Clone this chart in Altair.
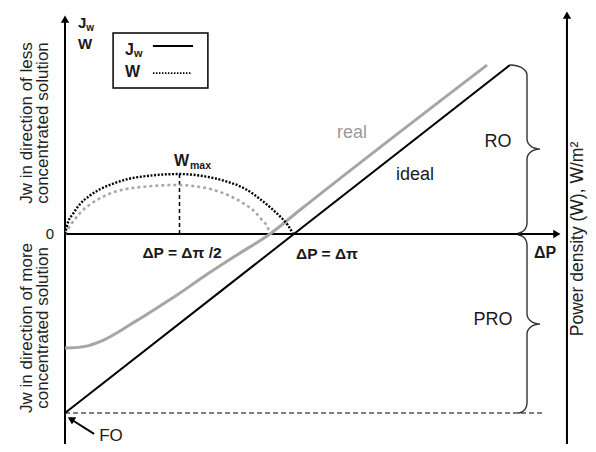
import math
import altair as alt
import pandas as pd

FONT = "Liberation Sans"

# ---- data (ΔP in units of Δπ, Jw / W in relative units) ----
IDEAL_DP = [0.0, 1.943]
IDEAL_JW = [-1.0, 0.944]

REAL_DP = [0.000, 0.031, 0.066, 0.100, 0.131, 0.166, 0.197, 0.231, 0.271, 0.341, 0.415, 0.489, 0.603, 0.751, 0.895, 1.026, 1.843]
REAL_JW = [-0.637, -0.636, -0.632, -0.625, -0.612, -0.594, -0.574, -0.549, -0.517, -0.462, -0.402, -0.341, -0.240, -0.117, 0.000, 0.134, 0.944]

W_IDEAL_DP = [0.0, 0.013, 0.035, 0.066, 0.109, 0.153, 0.218, 0.271, 0.371, 0.498, 0.611, 0.707, 0.786, 0.852, 0.904, 0.939, 0.974, 0.996]
W_IDEAL = [0.0, 0.065, 0.113, 0.168, 0.215, 0.250, 0.285, 0.306, 0.326, 0.335, 0.322, 0.293, 0.253, 0.195, 0.140, 0.098, 0.048, 0.0]

W_REAL_DP = [0.0, 0.022, 0.066, 0.109, 0.153, 0.218, 0.271, 0.371, 0.480, 0.590, 0.677, 0.777, 0.830, 0.860, 0.886, 0.895]
W_REAL = [0.0, 0.045, 0.118, 0.165, 0.200, 0.236, 0.252, 0.267, 0.274, 0.263, 0.235, 0.173, 0.123, 0.078, 0.034, 0.0]

W_MAX_DP = 0.5
W_MAX = 0.335
FO_JW = -1.0

# ---- scales ----
XMIN = -57 / 229
XMAX = XMIN + 580 / 229
YMAX = 226 / 179
YMIN = YMAX - 436 / 179

X = alt.X("u:Q", scale=alt.Scale(domain=[XMIN, XMAX], nice=False, zero=False), axis=None)
Y = alt.Y("v:Q", scale=alt.Scale(domain=[YMIN, YMAX], nice=False, zero=False), axis=None)


def pu(px):
    return (px - 65) / 229


def pv(py):
    return (234 - py) / 179


def rules(rows, **kw):
    df = pd.DataFrame(rows, columns=["u", "v", "u2", "v2"])
    return alt.Chart(df).mark_rule(**kw).encode(x=X, y=Y, x2="u2:Q", y2="v2:Q")


def line(us, vs, **kw):
    df = pd.DataFrame({"u": us, "v": vs, "i": list(range(len(us)))})
    return alt.Chart(df).mark_line(**kw).encode(x=X, y=Y, order="i:Q")


def txt(rows, **kw):
    df = pd.DataFrame(rows, columns=["u", "v", "t"])
    return alt.Chart(df).mark_text(font=FONT, **kw).encode(x=X, y=Y, text="t:N")


def brace(bid, x_top, top, x_bot, bot, x_stem=527, x_tip=540, r=10, n=8):
    mid = (top + bot) / 2
    pts = []
    ts = [k * (math.pi / 2) / (n - 1) for k in range(n)]
    for t in ts:
        pts.append((x_top + (x_stem - x_top) * math.sin(t), top + r - r * math.cos(t)))
    for t in ts:
        pts.append((x_tip - (x_tip - x_stem) * math.cos(t), mid - r + r * math.sin(t)))
    for t in ts:
        pts.append((x_tip - (x_tip - x_stem) * math.sin(t), mid + r - r * math.cos(t)))
    for t in ts:
        pts.append((x_bot + (x_stem - x_bot) * math.cos(t), bot - r + r * math.sin(t)))
    return [{"u": pu(a), "v": pv(b), "i": k, "b": bid} for k, (a, b) in enumerate(pts)]


layers = []

# axes
layers.append(rules([
    (0.0, YMIN, 0.0, 1.19),
    (2.192, YMIN, 2.192, 1.21),
    (0.0, 0.0, 2.14, 0.0),
], strokeWidth=2, color="black"))

# arrow heads
heads = pd.DataFrame([
    {"u": 0.0, "v": 1.201, "a": 0},
    {"u": 2.192, "v": 1.223, "a": 0},
    {"u": 2.148, "v": 0.0, "a": 90},
    {"u": 0.026, "v": -1.034, "a": 300},
])
layers.append(alt.Chart(heads).mark_point(filled=True, shape="triangle-up", size=70, color="black", opacity=1).encode(
    x=X, y=Y, angle=alt.Angle("a:Q", scale=None)))

# FO arrow shaft
layers.append(rules([(0.127, -1.117, 0.031, -1.039)], strokeWidth=2, color="black"))

# dashed guides
layers.append(rules([(0.0, FO_JW, 2.083, FO_JW)], strokeWidth=1.2, color="black", strokeDash=[5, 3]))
layers.append(rules([(W_MAX_DP, 0.0, W_MAX_DP, W_MAX)], strokeWidth=1.5, color="black", strokeDash=[4, 3]))

# Jw lines
layers.append(line(REAL_DP, REAL_JW, color="#a6a6a6", strokeWidth=3, interpolate="monotone"))
layers.append(line(IDEAL_DP, IDEAL_JW, color="black", strokeWidth=2))

# W arcs
layers.append(line(W_REAL_DP, W_REAL, color="#a8a8a8", strokeWidth=2.6, strokeDash=[3, 3], interpolate="monotone"))
layers.append(line(W_IDEAL_DP, W_IDEAL, color="black", strokeWidth=2.4, strokeDash=[2, 1.6], interpolate="monotone"))

# braces
bdf = pd.DataFrame(brace("RO", 510, 65, 518, 233) + brace("PRO", 518, 235, 518, 413))
layers.append(alt.Chart(bdf).mark_line(color="#333333", strokeWidth=1.4).encode(
    x=X, y=Y, order="i:Q", detail="b:N"))

# legend box
box = pd.DataFrame([{"u": 0.210, "v": 0.816, "u2": 0.624, "v2": 1.123}])
layers.append(alt.Chart(box).mark_rect(fill="white", stroke="black", strokeWidth=1.5).encode(
    x=X, y=Y, x2="u2:Q", y2="v2:Q"))
layers.append(rules([(0.384, 1.050, 0.559, 1.050)], strokeWidth=2, color="black"))
layers.append(rules([(0.384, 0.899, 0.550, 0.899)], strokeWidth=1.8, color="black", strokeDash=[1.5, 1.5]))

TXT = "#1a1a1a"
# bold labels centred
layers.append(txt([
    (0.511, -0.106, "ΔP = Δπ /2"),
    (1.144, -0.112, "ΔP = Δπ"),
], fontSize=15.5, fontWeight="bold", color=TXT, align="center", baseline="middle"))
layers.append(txt([(2.096, -0.106, "ΔP")], fontSize=16, fontWeight="bold", color=TXT, align="center", baseline="middle"))

# plain labels
layers.append(txt([
    (1.528, 0.330, "ideal"),
    (1.891, 0.514, "RO"),
    (1.869, -0.480, "PRO"),
], fontSize=18, color=TXT, align="center", baseline="middle"))
layers.append(txt([(0.201, -1.128, "FO")], fontSize=17, color=TXT, align="center", baseline="middle"))
layers.append(txt([(-0.066, 0.0, "0")], fontSize=15, color=TXT, align="center", baseline="middle"))
layers.append(txt([(1.253, 0.564, "real")], fontSize=18, color="#9a9a9a", align="center", baseline="middle"))

# bold symbol labels
layers.append(txt([
    (0.057, 1.178, "J"),
    (0.057, 1.064, "W"),
], fontSize=15, fontWeight="bold", color=TXT, align="left", baseline="middle"))
layers.append(txt([
    (0.262, 1.028, "J"),
    (0.262, 0.905, "W"),
    (0.476, 0.408, "W"),
], fontSize=16, fontWeight="bold", color=TXT, align="left", baseline="middle"))
layers.append(txt([(0.093, 1.150, "w")], fontSize=10, fontWeight="bold", color=TXT, align="left", baseline="middle"))
layers.append(txt([(0.301, 1.006, "w")], fontSize=11, fontWeight="bold", color=TXT, align="left", baseline="middle"))
layers.append(txt([(0.546, 0.380, "max")], fontSize=10.5, fontWeight="bold", color=TXT, align="left", baseline="middle"))

# rotated axis titles
layers.append(txt([
    (-0.166, 0.620, "Jw in direction of less"),
    (-0.096, 0.620, "concentrated solution"),
    (-0.166, -0.525, "Jw in direction of more"),
    (-0.096, -0.525, "concentrated solution"),
], fontSize=17, color="#222222", align="center", baseline="middle", angle=270))
layers.append(txt([(pu(578), -0.028, "Power density (W), W/m²")], fontSize=17.5, color="#222222",
                  align="center", baseline="middle", angle=270))

chart = alt.layer(*layers).properties(
    width=580, height=436, padding=0, autosize=alt.AutoSizeParams(type="none"), background="white"
).configure_view(stroke=None)

chart.save("out.html", embed_options={"renderer": "svg", "actions": False})
